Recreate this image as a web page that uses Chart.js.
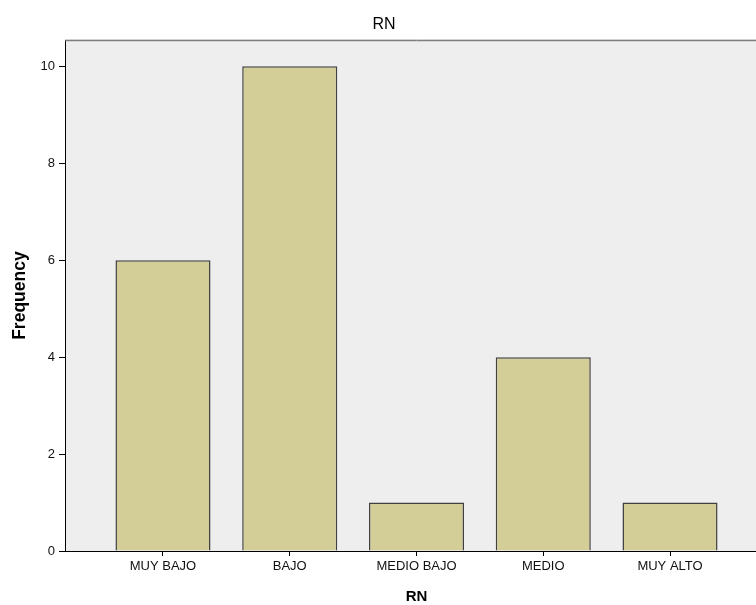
<!DOCTYPE html>
<html>
<head>
<meta charset="utf-8">
<script src="https://cdn.jsdelivr.net/npm/chart.js@4"></script>
<style>
html,body{margin:0;padding:0;background:#fff;overflow:hidden;width:756px;height:605px;}
#wrap{position:absolute;left:0;top:0;width:790px;height:605px;}
</style>
</head>
<body>
<div id="wrap"><canvas id="c" width="790" height="605"></canvas></div>
<script>
const categories = ["MUY BAJO", "BAJO", "MEDIO BAJO", "MEDIO", "MUY ALTO"];
const frequencies = [6, 10, 1, 4, 1];
const yTicks = [0, 2, 4, 6, 8, 10];
const chartTitle = "RN";
const xTitle = "RN";
const yTitle = "Frequency";

const points = categories.map((c, i) => ({x: i, y: frequencies[i]}));

const plotBg = {
  id: 'plotBg',
  beforeDraw(chart) {
    const a = chart.chartArea, ctx = chart.ctx;
    ctx.save();
    ctx.fillStyle = '#eeeeee';
    ctx.fillRect(a.left, a.top, a.right - a.left, a.bottom - a.top);
    ctx.restore();
  },
  afterDraw(chart) {
    const a = chart.chartArea, ctx = chart.ctx;
    ctx.save();
    ctx.lineWidth = 1;
    ctx.strokeStyle = '#c8c8c8';
    ctx.beginPath(); ctx.moveTo(a.left, a.top - 0.5); ctx.lineTo(a.right, a.top - 0.5); ctx.stroke();
    ctx.strokeStyle = '#666666';
    ctx.beginPath(); ctx.moveTo(a.left, a.top + 0.5); ctx.lineTo(a.right, a.top + 0.5); ctx.stroke();
    ctx.restore();
  }
};

new Chart(document.getElementById('c'), {
  type: 'bar',
  data: {
    datasets: [{
      data: points,
      backgroundColor: '#d3ce97',
      borderColor: '#404040',
      borderWidth: 1.5,
      categoryPercentage: 1,
      barPercentage: 0.75
    }]
  },
  options: {
    responsive: false,
    animation: false,
    devicePixelRatio: 1,
    layout: {padding: {left: 0, top: 0, bottom: 0, right: 22}},
    plugins: {
      legend: {display: false},
      tooltip: {enabled: false},
      title: {
        display: true, text: chartTitle, color: '#000',
        font: {family: 'Liberation Sans', size: 16, weight: 'normal'},
        padding: {top: 15, bottom: 6}
      }
    },
    scales: {
      x: {
        type: 'linear',
        offset: false,
        min: -0.773, max: 4.773,
        afterBuildTicks(scale) { scale.ticks = categories.map((c, i) => ({value: i})); },
        afterFit(scale) { scale.height = 54; },
        ticks: {
          autoSkip: false, maxRotation: 0, padding: 3,
          color: '#111', font: {family: 'Liberation Sans', size: 13},
          callback: (v) => categories[v]
        },
        grid: {offset: false, drawOnChartArea: false, drawTicks: true, tickLength: 5, color: '#000', lineWidth: 1},
        border: {display: true, color: '#000', width: 1},
        title: {display: true, text: xTitle, color: '#000',
          font: {family: 'Liberation Sans', size: 15, weight: 'bold'}, padding: {top: 0, bottom: -1}}
      },
      y: {
        min: 0, max: 10.54,
        afterBuildTicks(scale) { scale.ticks = yTicks.map(v => ({value: v})); },
        afterFit(scale) { scale.width = 65; },
        ticks: {padding: 4, color: '#111', font: {family: 'Liberation Sans', size: 13}},
        grid: {drawOnChartArea: false, drawTicks: true, tickLength: 6, color: '#000', lineWidth: 1},
        border: {display: true, color: '#000', width: 1},
        title: {display: true, text: yTitle, color: '#000',
          font: {family: 'Liberation Sans', size: 17.5, weight: 'bold'}, padding: {top: 10, bottom: 0}}
      }
    }
  },
  plugins: [plotBg]
});
</script>
</body>
</html>
